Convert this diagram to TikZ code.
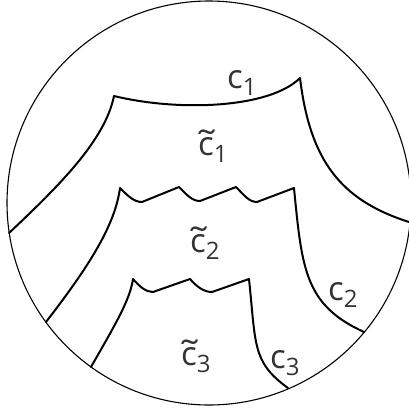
\documentclass[tikz,border=0pt]{standalone}
\usepackage{fontspec}
\setmainfont{Open Sans}
\definecolor{txt}{HTML}{333333}
\newcommand{\lbl}[2]{#1\raisebox{-7pt}{\fontsize{24}{24}\selectfont #2}}
\newcommand{\tilc}{\ooalign{c\cr\hidewidth\raisebox{-1pt}{\scalebox{1.4}[1.1]{\char"02DC}}\hidewidth\cr}}
\begin{document}
\begin{tikzpicture}[x=1pt,y=-1pt,
  curve/.style={line width=2pt, line join=round, line cap=round},
  ring/.style={line width=1.1pt},
  lab/.style={anchor=base west, inner sep=0pt, text=txt, font=\fontsize{33}{33}\selectfont}]
\useasboundingbox (0,0) rectangle (409,413);
\coordinate (o) at (209,203);
\draw[ring] (o) circle[radius=202pt];
% end points on the circle
\coordinate (a1) at (9,233);
\coordinate (b1) at (409,222);
\coordinate (a2) at (46,322);
\coordinate (b2) at (364,332);
\coordinate (a3) at (91,367);
\coordinate (b3) at (288,388);
% curve 1
\draw[curve] (a1) .. controls (60,185) and (105,140) .. (114,96)
  .. controls (180,112) and (270,108) .. (300,78)
  .. controls (310,160) and (340,200) .. (b1);
% curve 2
\draw[curve] (a2) .. controls (90,265) and (115,225) .. (120,188)
  .. controls (128,196) and (134,202) .. (142,202) -- (179,187)
  .. controls (187,195) and (192,201) .. (200,201) -- (236,187)
  .. controls (244,195) and (249,202) .. (257,202) -- (294,188)
  .. controls (302,270) and (305,305) .. (b2);
% curve 3
\draw[curve] (a3) .. controls (115,325) and (130,300) .. (133,279)
  .. controls (140,287) and (146,292) .. (153,292) -- (190,279)
  .. controls (197,287) and (204,292) .. (212,292) -- (249,279)
  .. controls (256,345) and (252,362) .. (b3);
% labels
\node[lab] (l1) at (227,88) {\lbl{c}{1}};
\node[lab] (t1) at (198,155) {\lbl{\tilc}{1}};
\node[lab] (t2) at (190,252) {\lbl{\tilc}{2}};
\node[lab] (l2) at (328,300) {\lbl{c}{2}};
\node[lab] (t3) at (181,365) {\lbl{\tilc}{3}};
\node[lab] (l3) at (270,368) {\lbl{c}{3}};
\end{tikzpicture}
\end{document}
